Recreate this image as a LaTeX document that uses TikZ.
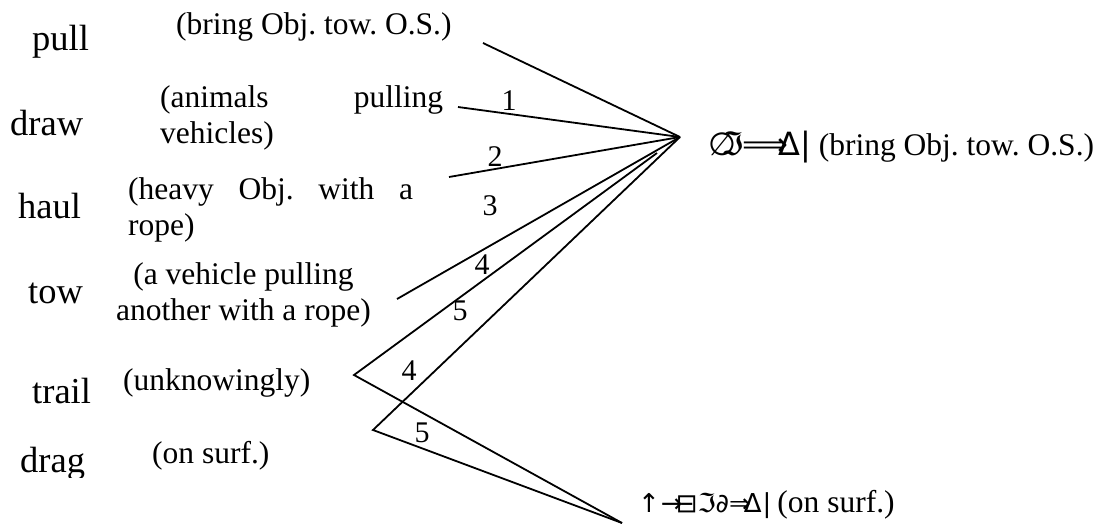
\documentclass[tikz,border=0pt]{standalone}
\usepackage{fontspec}
\setmainfont{Liberation Serif}
\newfontfamily\symf{DejaVu Sans}
\begin{document}
\frenchspacing
\begin{tikzpicture}[x=1pt,y=-1pt,
  verb/.style={anchor=base west, inner sep=0pt, font=\fontsize{36.5}{40}\selectfont},
  gloss/.style={anchor=base west, inner sep=0pt, align=left, font=\fontsize{31.5}{36}\selectfont},
  num/.style={inner sep=0pt, font=\fontsize{30}{34}\selectfont},
  link/.style={line width=1.8pt, line join=miter}]
\useasboundingbox (0,0) rectangle (1106,531);
% verbs
\node[verb] (pull)  at (32,50)  {pull};
\node[verb] (draw)  at (10,135) {draw};
\node[verb] (haul)  at (18,218) {haul};
\node[verb] (tow)   at (28,303) {tow};
\node[verb] (trail) at (32,403) {trail};
\begin{scope}
  \clip (0,0) rectangle (140,477);
  \node[verb] (drag) at (20,472) {drag};
\end{scope}
% glosses (base anchor = baseline of the last line)
\node[gloss] (gpull) at (176,34) {(bring Obj. tow. O.S.)};
\node[gloss] (gdraw) at (160,143) {\makebox[283pt][s]{(animals pulling}\\vehicles)};
\node[gloss] (ghaul) at (128,235) {\makebox[285pt][s]{(heavy Obj. with a}\\rope)};
\node[gloss, align=center, anchor=base] (gtow) at (243.5,320) {(a vehicle pulling\\another with a rope)};
\node[gloss] (gtrail) at (123,390) {(unknowingly)};
\node[gloss] (gdrag) at (152,463) {(on surf.)};
% targets
\node[gloss] (tA) at (708,155) {{\symf\fontsize{32}{36}\selectfont ∅\kern-15pt ℑ\kern-1pt ⟹\kern-10pt Δ\kern0pt|} (bring Obj. tow. O.S.)};
\node[gloss] (tB) at (638,512) {{\symf\fontsize{26}{30}\selectfont ↑\kern1pt →\kern-7pt ⊟ℑ∂⇒\kern-7pt Δ\kern1pt|}\kern6pt(on surf.)};
% connector points
\coordinate (A) at (680,137);
\coordinate (B) at (622,523);
\coordinate (e0) at (483,43);
\coordinate (e1) at (458,107);
\coordinate (e2) at (449,177);
\coordinate (e3) at (397,299);
\coordinate (e4) at (657,153);
\coordinate (pT) at (354,375);
\coordinate (pD) at (373,430);
% connectors
\draw[link] (e0) -- (A);
\draw[link] (e1) -- (A);
\draw[link] (e2) -- (A);
\draw[link] (e3) -- (A);
\draw[link] (e4) -- (pT) -- (B);
\draw[link] (A) -- (pD) -- (B);
% numbers
\node[num] (n1) at (509,101) {1};
\node[num] (n2) at (495,157) {2};
\node[num] (n3) at (490,206) {3};
\node[num] (n4a) at (482,265) {4};
\node[num] (n5a) at (460,311) {5};
\node[num] (n4b) at (409,371) {4};
\node[num] (n5b) at (422,433) {5};
\end{tikzpicture}
\end{document}
